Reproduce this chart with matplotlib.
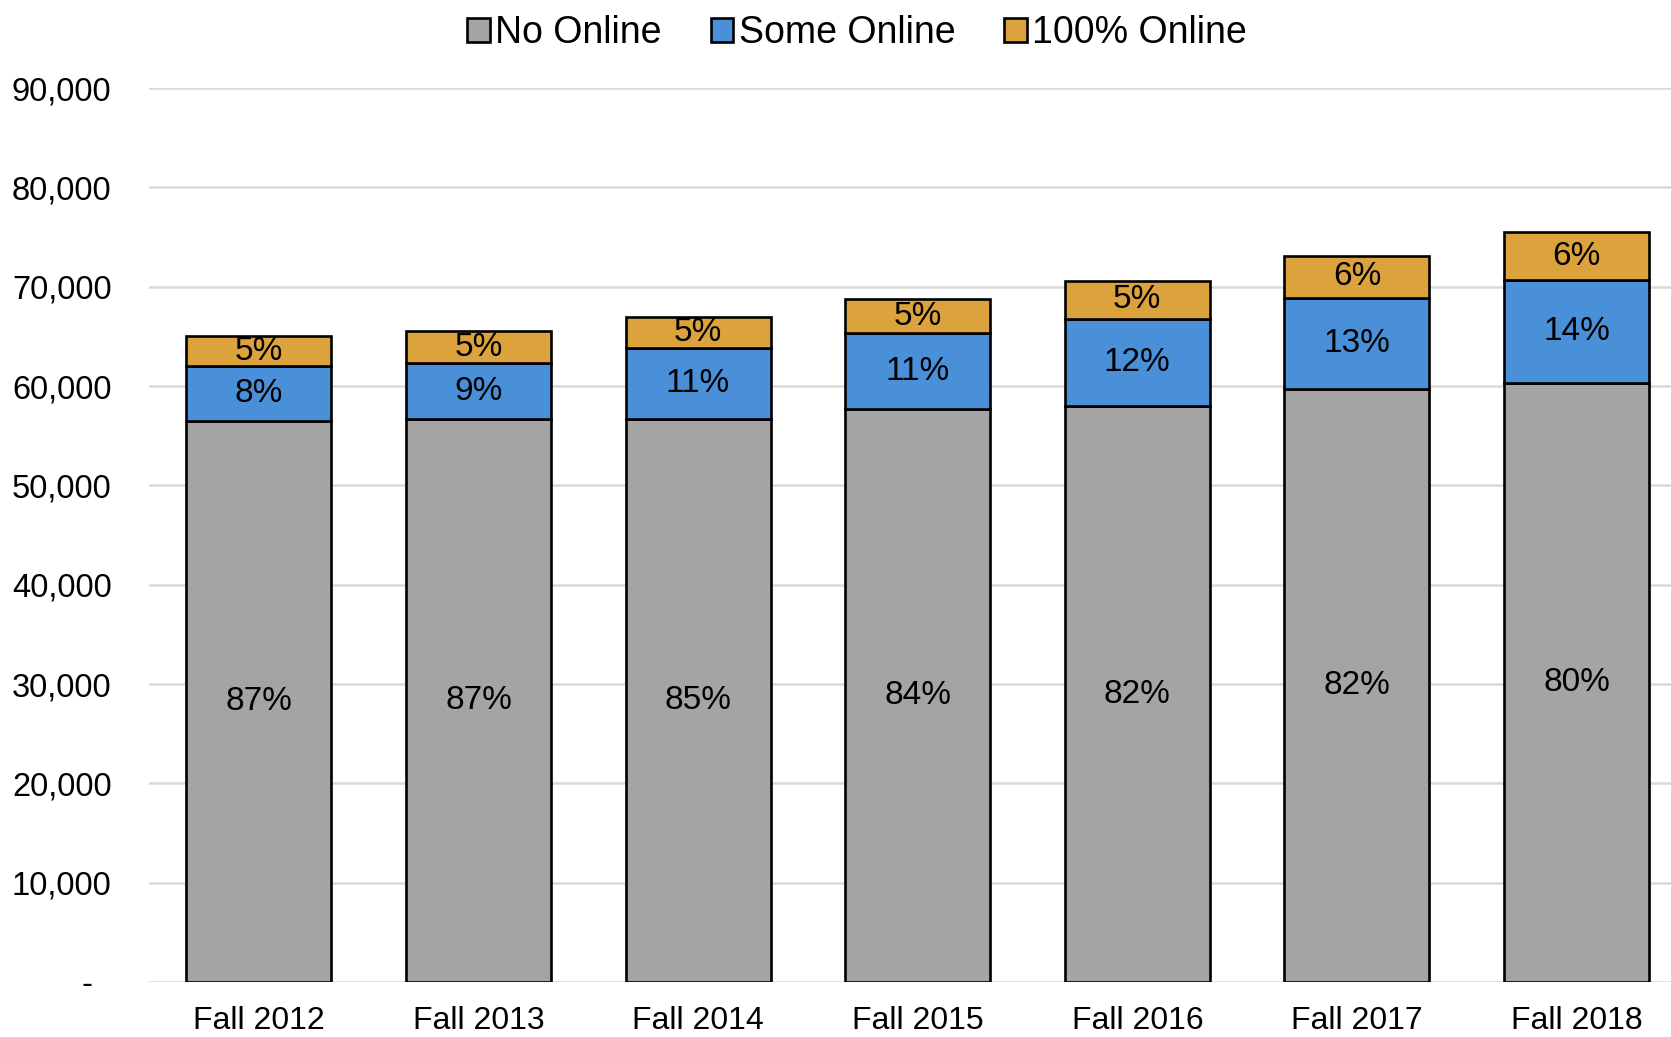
import matplotlib
matplotlib.use("Agg")
import matplotlib.pyplot as plt
import numpy as np
from matplotlib.ticker import FixedLocator, FuncFormatter

categories = ["Fall 2012", "Fall 2013", "Fall 2014", "Fall 2015", "Fall 2016", "Fall 2017", "Fall 2018"]
no_online = [56500, 56700, 56700, 57700, 58000, 59700, 60350]
some_online = [5500, 5600, 7100, 7600, 8800, 9150, 10300]
full_online = [3000, 3250, 3200, 3450, 3750, 4300, 4850]
no_online_pct = ["87%", "87%", "85%", "84%", "82%", "82%", "80%"]
some_online_pct = ["8%", "9%", "11%", "11%", "12%", "13%", "14%"]
full_online_pct = ["5%", "5%", "5%", "5%", "5%", "6%", "6%"]
series_names = ["No Online", "Some Online", "100% Online"]
yticks = [0, 10000, 20000, 30000, 40000, 50000, 60000, 70000, 80000, 90000]

colors = ["#a3a4a3", "#4a90d9", "#dca23b"]

plt.rcParams['font.family'] = ['Liberation Sans', 'DejaVu Sans']

fig = plt.figure(figsize=(16.71, 10.37), dpi=100)
ax = fig.add_axes([0.0892, 0.053, 0.9108, 0.862])

x = np.arange(len(categories))
w = 0.66
bottoms = np.zeros(len(categories))
handles = []
for vals, pcts, col, name in zip([no_online, some_online, full_online],
                                 [no_online_pct, some_online_pct, full_online_pct],
                                 colors, series_names):
    vals = np.array(vals, dtype=float)
    b = ax.bar(x, vals, w, bottom=bottoms, color=col, edgecolor="black", linewidth=1.9,
               label=name, zorder=3)
    handles.append(b)
    for xi, v, bo, p in zip(x, vals, bottoms, pcts):
        ax.text(xi, bo + v / 2, p, ha="center", va="center", fontsize=24, color="black", zorder=4)
    bottoms = bottoms + vals

ax.set_xlim(-0.5, 6.43)
ax.set_ylim(0, 90000)
ax.yaxis.set_major_locator(FixedLocator(yticks))
ax.yaxis.set_major_formatter(FuncFormatter(lambda v, p: "-  " if v == 0 else f"{int(v):,}"))
ax.set_xticks(x)
ax.set_xticklabels(categories)
ax.tick_params(axis="y", length=0, labelsize=23.5, pad=27)
ax.tick_params(axis="x", length=0, labelsize=23, pad=17)
ax.grid(axis="y", color="#d9d9d9", linewidth=1.8, zorder=0)
ax.set_axisbelow(True)
for s in ax.spines.values():
    s.set_visible(False)

leg = fig.legend(handles=handles, labels=series_names, loc="upper center",
                 bbox_to_anchor=(0.513, 1.018), ncol=3, frameon=False, fontsize=27,
                 handlelength=0.6, handleheight=0.6, handletextpad=0.15, columnspacing=1.3)

fig.savefig("out.png", dpi=100)
